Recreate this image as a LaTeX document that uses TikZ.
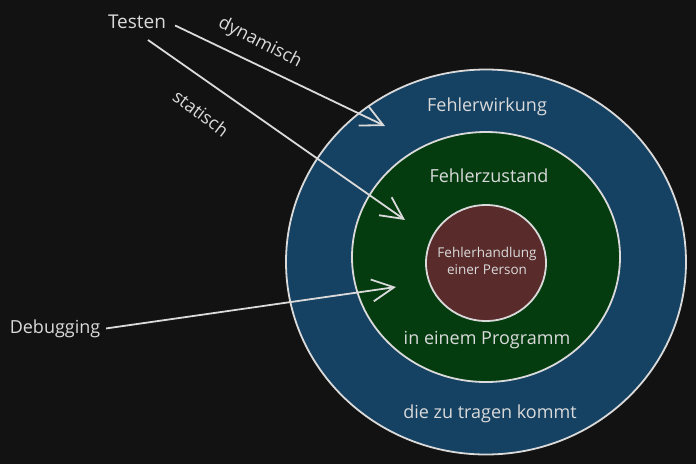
\documentclass[tikz,border=0pt]{standalone}
\usepackage{fontspec}
\setmainfont{Open Sans}
\usetikzlibrary{shapes,arrows.meta}
\definecolor{bg}{HTML}{121212}
\definecolor{ink}{HTML}{DADADA}
\definecolor{wirkfill}{HTML}{154162}
\definecolor{zustfill}{HTML}{043C10}
\definecolor{handfill}{HTML}{592B2B}

\begin{document}
\begin{tikzpicture}[x=1pt,y=-1pt]
        \tikzstyle{every path}=[line width=1.8pt,draw=ink]
        \tikzstyle{ring} = [draw=ink, ellipse, inner sep=0pt]
        \tikzstyle{word} = [text=ink, inner sep=1pt, font=\fontsize{18}{21}\selectfont]
        \tikzstyle{pfeil} = [->, >={Straight Barb[length=22pt,width=22pt]}]
        \useasboundingbox[fill=bg,draw=none] (0,0) rectangle (696,464);
        \node[ring,fill=wirkfill,minimum width=400pt,minimum height=385pt](wirkung) at (486,262){};
        \node[ring,fill=zustfill,minimum width=268pt,minimum height=250pt](zustand) at (486,257){};
        \node[ring,fill=handfill,minimum width=120pt,minimum height=116pt](handlung) at (486,263){};
        \node[word](wirkungtxt) at (487,107){Fehlerwirkung};
        \node[word](zustandtxt) at (489,176){Fehlerzustand};
        \node[word,align=center,font=\fontsize{13.5}{17}\selectfont](handlungtxt) at (487,261){Fehlerhandlung\\einer Person};
        \node[word](programm) at (487,340){in einem Programm};
        \node[word](kommt) at (490,414){die zu tragen kommt};
        \node[word,font=\fontsize{19}{22}\selectfont](testen) at (137,22){Testen};
        \node[word,rotate=-27](dyn) at (260,43){dynamisch};
        \node[word,rotate=-37](stat) at (201,113){statisch};
        \node[word](debug) at (55,329){Debugging};
        \coordinate (statstart) at (148,40);
        \coordinate (dynend) at (385,126);
        \coordinate (statend) at (405,220);
        \coordinate (debugend) at (396,287);
        \draw[pfeil,shorten <=8pt] (testen.east) -- (dynend);
        \draw[pfeil] (statstart) -- (statend);
        \draw[pfeil,shorten <=4pt] (debug.east) -- (debugend);
    \end{tikzpicture}
\end{document}
